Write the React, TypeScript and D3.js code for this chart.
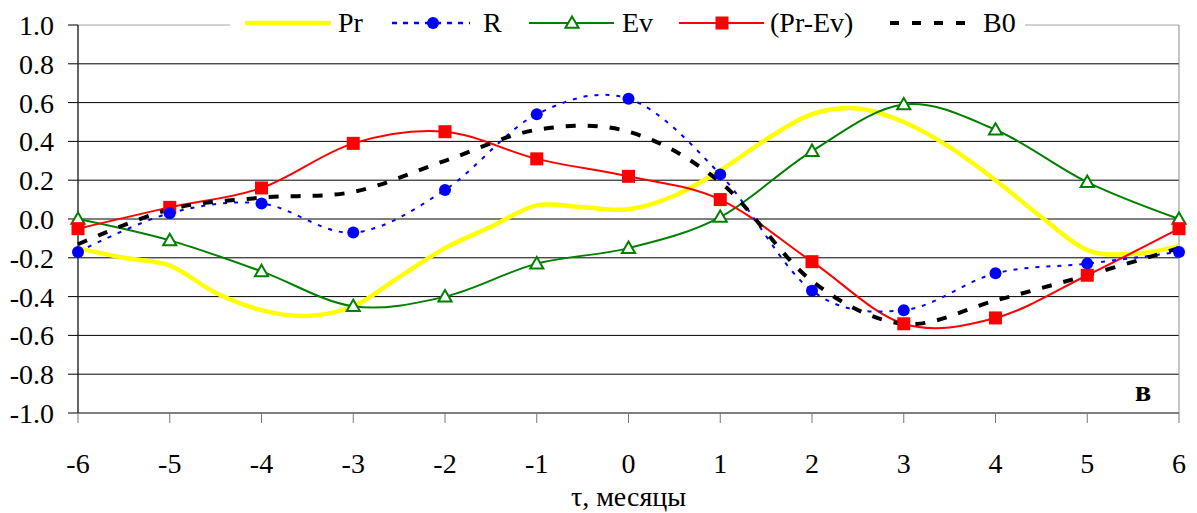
import { useEffect, useRef } from "react";
import * as d3 from "d3";

// months (tau) for the marked series
const months = [-6, -5, -4, -3, -2, -1, 0, 1, 2, 3, 4, 5, 6];
const rValues = [-0.17, 0.03, 0.08, -0.07, 0.15, 0.54, 0.62, 0.23, -0.37, -0.47, -0.28, -0.23, -0.17];
const evValues = [0.0, -0.11, -0.27, -0.45, -0.4, -0.23, -0.15, 0.01, 0.35, 0.59, 0.46, 0.19, 0.0];
const prEvValues = [-0.05, 0.06, 0.16, 0.39, 0.45, 0.31, 0.22, 0.1, -0.22, -0.54, -0.51, -0.29, -0.05];
const b0Values = [-0.13, 0.05, 0.11, 0.14, 0.3, 0.46, 0.45, 0.19, -0.32, -0.54, -0.42, -0.29, -0.15];

// Pr is drawn without markers, read at half-month steps
const prMonths = [-6, -5.5, -5, -4.5, -4, -3.5, -3, -2.5, -2, -1.5, -1, -0.5, 0, 0.5, 1, 1.5, 2, 2.5, 3, 3.5, 4, 4.5, 5, 5.5, 6];
const prValues = [-0.15, -0.2, -0.24, -0.38, -0.47, -0.5, -0.45, -0.3, -0.15, -0.04, 0.07, 0.06, 0.05, 0.12, 0.25, 0.41, 0.54, 0.57, 0.5, 0.37, 0.2, 0.01, -0.16, -0.18, -0.14];

const yTicks = [-1.0, -0.8, -0.6, -0.4, -0.2, 0.0, 0.2, 0.4, 0.6, 0.8, 1.0];

const FONT = "Liberation Serif, Times New Roman, DejaVu Serif, serif";

export default function App() {
    const svgRef = useRef<SVGSVGElement>(null);

    useEffect(() => {
        if (!svgRef.current) return;
        const root = d3.select(svgRef.current);
        root.selectAll("*").remove();

        const W = 1197;
        const H = 513;
        const left = 78;
        const right = 1179;
        const top = 25;
        const bottom = 413;

        root.attr("width", W).attr("height", H).style("font-family", FONT);
        root.append("rect").attr("width", W).attr("height", H).attr("fill", "white");

        const x = d3.scaleLinear().domain([-6, 6]).range([left, right]);
        const y = d3.scaleLinear().domain([-1, 1]).range([bottom, top]);

        // gridlines
        yTicks.forEach((t) => {
            root.append("line")
                .attr("x1", left)
                .attr("x2", right)
                .attr("y1", y(t))
                .attr("y2", y(t))
                .attr("stroke", t === 1 ? "#a6a6a6" : "#000")
                .attr("stroke-width", 1);
        });
        // right border
        root.append("line").attr("x1", right).attr("x2", right).attr("y1", top).attr("y2", bottom).attr("stroke", "#8c8c8c");

        // y axis
        const yAxis = root.append("g").attr("transform", `translate(${left},0)`);
        yAxis.append("line").attr("y1", top).attr("y2", bottom).attr("stroke", "#333").attr("stroke-width", 1.5);
        yTicks.forEach((t) => {
            yAxis.append("line").attr("x1", -10).attr("x2", 0).attr("y1", y(t)).attr("y2", y(t)).attr("stroke", "#000");
            yAxis.append("text")
                .attr("x", -24)
                .attr("y", y(t) + 10)
                .attr("text-anchor", "end")
                .style("font-family", FONT)
                .attr("font-size", 28)
                .attr("fill", "#000")
                .text(t.toFixed(1));
        });

        // x axis ticks
        months.forEach((m) => {
            root.append("line").attr("x1", x(m)).attr("x2", x(m)).attr("y1", bottom).attr("y2", bottom + 10).attr("stroke", "#777");
            root.append("text")
                .attr("x", x(m))
                .attr("y", 473)
                .attr("text-anchor", "middle")
                .style("font-family", FONT)
                .attr("font-size", 28)
                .text(String(m));
        });

        root.append("text")
            .attr("x", (left + right) / 2)
            .attr("y", 506)
            .attr("text-anchor", "middle")
            .style("font-family", FONT)
            .attr("font-size", 28)
            .text("τ, месяцы");

        root.append("text")
            .attr("x", 1143)
            .attr("y", 401)
            .attr("text-anchor", "middle")
            .style("font-family", FONT)
            .attr("font-weight", "bold")
            .attr("font-size", 30)
            .text("в");

        const curve = d3.curveCatmullRom.alpha(0);
        const line = d3
            .line<[number, number]>()
            .x((d) => x(d[0]))
            .y((d) => y(d[1]))
            .curve(curve);

        const plot = root.append("g");

        const pairs = (xs: number[], ys: number[]) => xs.map((v, i) => [v, ys[i]] as [number, number]);

        // Pr
        plot.append("path").attr("d", line(pairs(prMonths, prValues))).attr("fill", "none").attr("stroke", "#ffff00").attr("stroke-width", 4.5);
        // Ev
        plot.append("path").attr("d", line(pairs(months, evValues))).attr("fill", "none").attr("stroke", "#008000").attr("stroke-width", 2);
        // Pr-Ev
        plot.append("path").attr("d", line(pairs(months, prEvValues))).attr("fill", "none").attr("stroke", "#ff0000").attr("stroke-width", 2);
        // R
        plot.append("path").attr("d", line(pairs(months, rValues))).attr("fill", "none").attr("stroke", "#0000ff").attr("stroke-width", 2).attr("stroke-dasharray", "4,7");
        // B0
        plot.append("path").attr("d", line(pairs(months, b0Values))).attr("fill", "none").attr("stroke", "#000").attr("stroke-width", 4).attr("stroke-dasharray", "10,12");

        const tri = d3.symbol().type(d3.symbolTriangle).size(75);

        const drawCircle = (g: any, cx: number, cy: number) =>
            g.append("circle").attr("cx", cx).attr("cy", cy).attr("r", 6).attr("fill", "#0000ff");
        const drawSquare = (g: any, cx: number, cy: number) =>
            g.append("rect").attr("x", cx - 6.5).attr("y", cy - 6.5).attr("width", 13).attr("height", 13).attr("fill", "#ff0000");
        const drawTriangle = (g: any, cx: number, cy: number) =>
            g.append("path").attr("d", tri()).attr("transform", `translate(${cx},${cy + 1})`).attr("fill", "white").attr("stroke", "#008000").attr("stroke-width", 2);

        months.forEach((m, i) => {
            drawTriangle(plot, x(m), y(evValues[i]));
            drawSquare(plot, x(m), y(prEvValues[i]));
            drawCircle(plot, x(m), y(rValues[i]));
        });

        // legend
        const legend = root.append("g").style("font-family", FONT).attr("font-size", 28);
        legend.append("rect").attr("x", 230).attr("y", 0).attr("width", 795).attr("height", 42).attr("fill", "white");
        const ly = 23;
        const ty = 32;

        legend.append("line").attr("x1", 245).attr("x2", 331).attr("y1", ly).attr("y2", ly).attr("stroke", "#ffff00").attr("stroke-width", 4.5);
        legend.append("text").attr("x", 338).attr("y", ty).text("Pr");

        legend.append("line").attr("x1", 392).attr("x2", 470).attr("y1", ly).attr("y2", ly).attr("stroke", "#0000ff").attr("stroke-width", 2.5).attr("stroke-dasharray", "5,6");
        drawCircle(legend, 433, ly);
        legend.append("text").attr("x", 483).attr("y", ty).text("R");

        legend.append("line").attr("x1", 529).attr("x2", 614).attr("y1", ly).attr("y2", ly).attr("stroke", "#008000").attr("stroke-width", 2);
        drawTriangle(legend, 572, ly);
        legend.append("text").attr("x", 622).attr("y", ty).text("Ev");

        legend.append("line").attr("x1", 679).attr("x2", 764).attr("y1", ly).attr("y2", ly).attr("stroke", "#ff0000").attr("stroke-width", 2);
        drawSquare(legend, 722, ly);
        legend.append("text").attr("x", 770).attr("y", ty).text("(Pr-Ev)");

        legend.append("line").attr("x1", 890).attr("x2", 972).attr("y1", ly).attr("y2", ly).attr("stroke", "#000").attr("stroke-width", 4).attr("stroke-dasharray", "9,13");
        legend.append("text").attr("x", 983).attr("y", ty).text("B0");
    }, []);

    return <svg ref={svgRef} style={{ position: "absolute", left: 0, top: 0, display: "block" }} />;
}
